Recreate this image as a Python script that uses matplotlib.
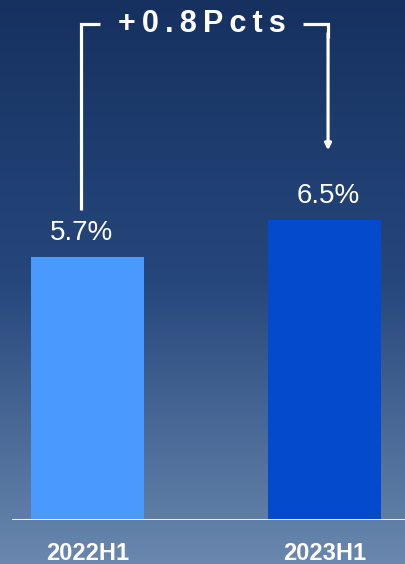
import numpy as np
import matplotlib
matplotlib.use('Agg')
from matplotlib import pyplot as plt
from matplotlib.colors import LinearSegmentedColormap

# data
categories = ['2022H1', '2023H1']
values = [5.7, 6.5]
value_labels = ['5.7%', '6.5%']
bar_colors = ['#4a99ff', '#034bcc']
delta_label = '+0.8Pcts'

plt.rcParams['font.family'] = ['Liberation Sans', 'DejaVu Sans']

fig = plt.figure(figsize=(4.06, 5.64), dpi=100)

# background gradient
bg = fig.add_axes([0, 0, 1, 1], zorder=0)
cmap = LinearSegmentedColormap.from_list('bg', [(0, '#163160'), (0.5, '#26477c'), (1, '#6a88ae')])
grad = np.linspace(0, 1, 256).reshape(-1, 1)
bg.imshow(grad, aspect='auto', cmap=cmap, extent=[0, 1, 0, 1], origin='upper')
bg.set_axis_off()

# main axes: baseline at 520px from top
ax = fig.add_axes([0, 44 / 564, 1, 520 / 564], zorder=1)
ax.patch.set_alpha(0)
px_per_unit = 46.2
ax.set_ylim(0, 520 / px_per_unit)
x = np.arange(len(categories))
ax.set_xlim(-87.5 / 237, (406 - 87.5) / 237)

ax.bar(x, values, width=113 / 237, color=bar_colors, zorder=2)
ax.axhline(0, xmin=13 / 406, xmax=1, color='white', lw=2, zorder=3)

# value labels, nudged to line up with the bracket
lbl_dx = [-0.027, 0.015]
for i, (v, lab) in enumerate(zip(values, value_labels)):
    ax.annotate(lab, (x[i] + lbl_dx[i], v), xytext=(0, 12), textcoords='offset points',
                ha='center', va='baseline', color='white', fontsize=20)

# bracket with the difference
top = 496 / px_per_unit
lw = 2.3
xl = x[0] + lbl_dx[0]
xr = x[1] + lbl_dx[1]
ax.plot([xl, xl, xl + 19 / 237], [values[0] + 1.02, top, top], color='white', lw=lw,
        solid_joinstyle='miter', solid_capstyle='butt')
ax.plot([xr - 25 / 237, xr, xr], [top, top, top - 0.3], color='white', lw=lw,
        solid_joinstyle='miter', solid_capstyle='butt')
ax.annotate('', xy=(xr, values[1] + 1.5), xytext=(xr, top - 0.2),
            arrowprops=dict(arrowstyle='-|>', lw=lw, color='white', mutation_scale=9,
                            shrinkA=0, shrinkB=0))
ax.text((xl + xr) / 2 - 0.01, top, '\u2009'.join(delta_label), ha='center', va='center',
        color='white', fontsize=22, fontweight='bold')

ax.set_xticks(x)
ax.set_xticklabels(categories, fontsize=17, fontweight='bold', color='white')
ax.tick_params(axis='x', length=0, pad=16)
ax.set_yticks([])
for s in ax.spines.values():
    s.set_visible(False)

plt.savefig('out.png', dpi=100)
